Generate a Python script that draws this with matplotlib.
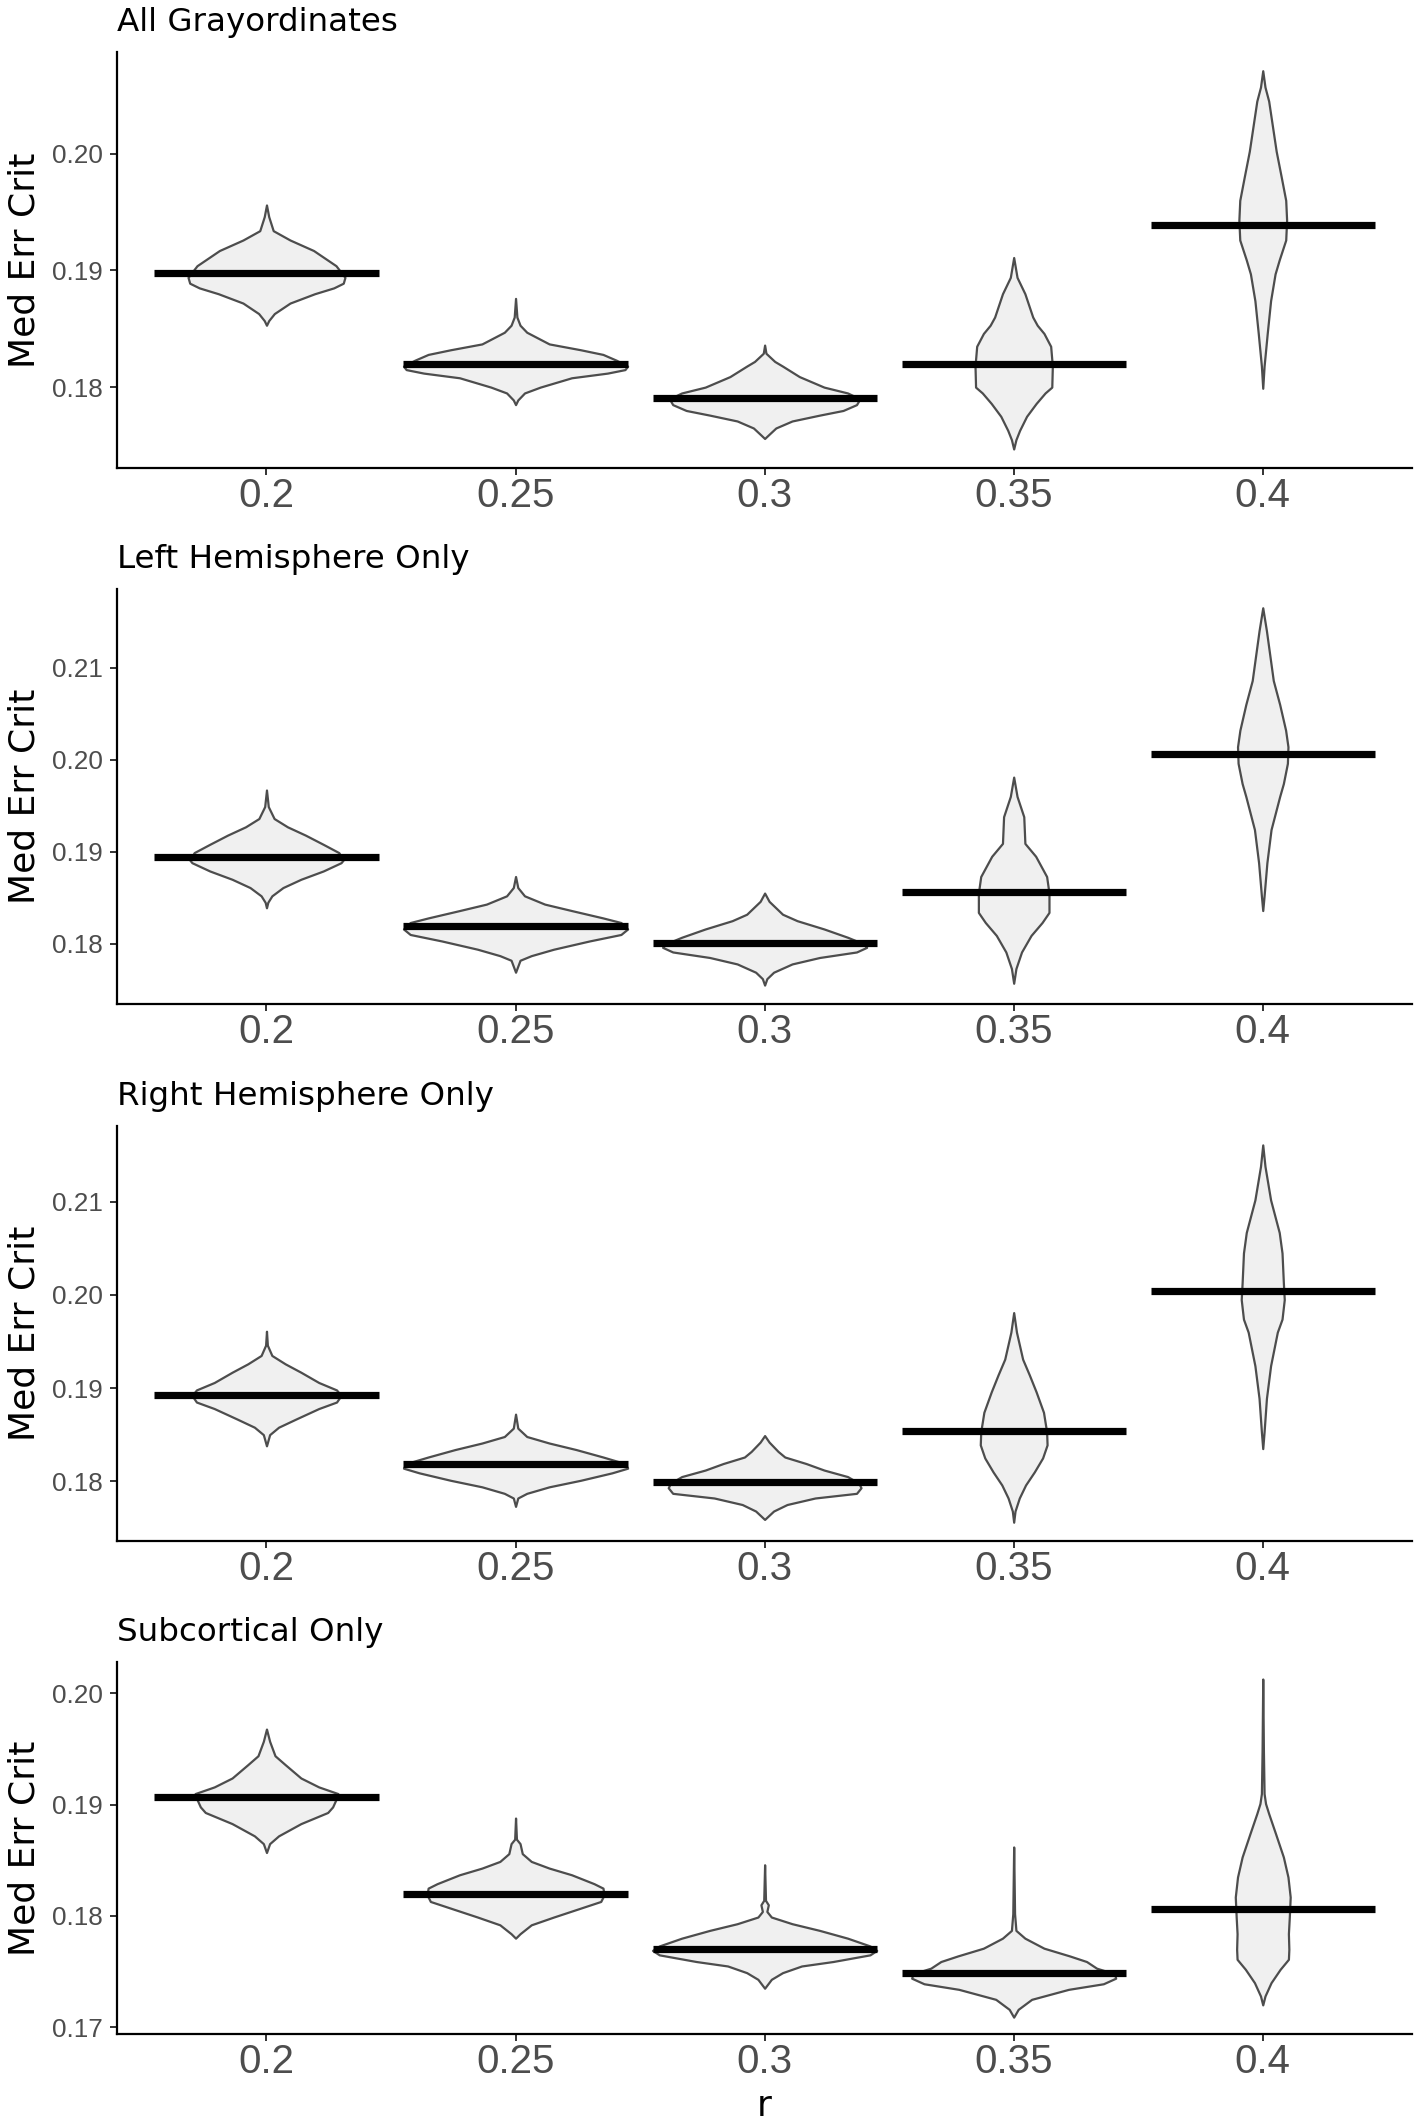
import numpy as np
import matplotlib
matplotlib.use("Agg")
import matplotlib.pyplot as plt
from matplotlib.font_manager import FontProperties
from matplotlib.ticker import MultipleLocator, FormatStrFormatter

# categories on the x axis
r_labels = ["0.2", "0.25", "0.3", "0.35", "0.4"]
panel_titles = ["All Grayordinates", "Left Hemisphere Only",
                "Right Hemisphere Only", "Subcortical Only"]

# --- All Grayordinates ---
all_med = [0.1898, 0.1820, 0.1791, 0.1820, 0.1939]
all_y = [
    [0.1956, 0.1946, 0.1934, 0.1926, 0.1917, 0.1904, 0.1894, 0.1889, 0.1885, 0.1880, 0.1872, 0.1863, 0.1857, 0.1853],
    [0.1876, 0.1860, 0.1853, 0.1847, 0.1843, 0.1837, 0.1832, 0.1828, 0.1823, 0.1818, 0.1815, 0.1812, 0.1808, 0.1800, 0.1795, 0.1789, 0.1785],
    [0.1836, 0.1829, 0.1822, 0.1818, 0.1809, 0.1800, 0.1795, 0.1790, 0.1785, 0.1780, 0.1776, 0.1771, 0.1765, 0.1759, 0.1756],
    [0.1911, 0.1894, 0.1880, 0.1860, 0.1853, 0.1846, 0.1835, 0.1818, 0.1800, 0.1795, 0.1786, 0.1775, 0.1763, 0.1755, 0.1747],
    [0.2071, 0.2057, 0.2045, 0.2002, 0.1980, 0.1960, 0.1943, 0.1926, 0.1909, 0.1897, 0.1874, 0.1846, 0.1818, 0.1799],
]
all_d = [
    [0, 0.02, 0.06, 0.21, 0.42, 0.62, 0.70, 0.685, 0.60, 0.43, 0.21, 0.07, 0.02, 0],
    [0, 0.012, 0.04, 0.10, 0.18, 0.30, 0.58, 0.78, 0.90, 1.0, 0.976, 0.82, 0.50, 0.22, 0.08, 0.02, 0],
    [0, 0.012, 0.09, 0.16, 0.31, 0.53, 0.74, 0.85, 0.82, 0.70, 0.49, 0.245, 0.10, 0.033, 0],
    [0, 0.03, 0.10, 0.17, 0.21, 0.27, 0.33, 0.345, 0.34, 0.28, 0.20, 0.115, 0.053, 0.02, 0],
    [0, 0.02, 0.053, 0.12, 0.165, 0.205, 0.213, 0.205, 0.147, 0.11, 0.07, 0.04, 0.012, 0],
]

# --- Left hemisphere ---
lh_med = [0.1894, 0.1819, 0.1801, 0.1856, 0.2006]
lh_y = [
    [0.1967, 0.1949, 0.1936, 0.1927, 0.1918, 0.1908, 0.1899, 0.1891, 0.1888, 0.1879, 0.1870, 0.1861, 0.1852, 0.1845, 0.1839],
    [0.1873, 0.1861, 0.1852, 0.1843, 0.1836, 0.1828, 0.1823, 0.1816, 0.1810, 0.1803, 0.1794, 0.1787, 0.1782, 0.1769],
    [0.1855, 0.1846, 0.1832, 0.1825, 0.1816, 0.1807, 0.1800, 0.1796, 0.1791, 0.1785, 0.1778, 0.1769, 0.1762, 0.1755],
    [0.1981, 0.1960, 0.1938, 0.1909, 0.1895, 0.1873, 0.1855, 0.1834, 0.1823, 0.1809, 0.1791, 0.1773, 0.1757],
    [0.2165, 0.2140, 0.2086, 0.2060, 0.2032, 0.2014, 0.1996, 0.1974, 0.1960, 0.1924, 0.1888, 0.1852, 0.1836],
]
lh_d = [
    [0, 0.016, 0.068, 0.187, 0.347, 0.506, 0.645, 0.685, 0.665, 0.506, 0.307, 0.147, 0.048, 0.012, 0],
    [0, 0.02, 0.08, 0.26, 0.50, 0.78, 0.94, 1.0, 0.94, 0.66, 0.34, 0.14, 0.04, 0],
    [0, 0.04, 0.16, 0.29, 0.53, 0.74, 0.88, 0.91, 0.82, 0.49, 0.245, 0.08, 0.02, 0],
    [0, 0.03, 0.09, 0.10, 0.196, 0.294, 0.315, 0.315, 0.253, 0.155, 0.07, 0.02, 0],
    [0, 0.033, 0.094, 0.151, 0.204, 0.225, 0.22, 0.184, 0.151, 0.074, 0.037, 0.012, 0],
]

# --- Right hemisphere ---
rh_med = [0.1893, 0.1819, 0.1799, 0.1854, 0.2004]
rh_y = [
    [0.1961, 0.1946, 0.1935, 0.1926, 0.1917, 0.1906, 0.1898, 0.1892, 0.1885, 0.1878, 0.1867, 0.1858, 0.1850, 0.1838],
    [0.1872, 0.1857, 0.1848, 0.1841, 0.1834, 0.1826, 0.1819, 0.1814, 0.1809, 0.1801, 0.1794, 0.1787, 0.1782, 0.1773],
    [0.1849, 0.1842, 0.1832, 0.1826, 0.1819, 0.1812, 0.1805, 0.1798, 0.1793, 0.1787, 0.1782, 0.1775, 0.1768, 0.1759],
    [0.1981, 0.1960, 0.1931, 0.1914, 0.1896, 0.1874, 0.1853, 0.1839, 0.1825, 0.1810, 0.1796, 0.1782, 0.1768, 0.1756],
    [0.2161, 0.2138, 0.2102, 0.2067, 0.2045, 0.2013, 0.1995, 0.1974, 0.1960, 0.1924, 0.1889, 0.1853, 0.1835],
]
rh_d = [
    [0, 0.008, 0.048, 0.167, 0.307, 0.466, 0.625, 0.665, 0.625, 0.466, 0.267, 0.108, 0.028, 0],
    [0, 0.02, 0.10, 0.30, 0.54, 0.78, 0.976, 1.0, 0.86, 0.58, 0.30, 0.10, 0.02, 0],
    [0, 0.04, 0.12, 0.18, 0.37, 0.53, 0.74, 0.84, 0.86, 0.82, 0.45, 0.20, 0.08, 0],
    [0, 0.025, 0.08, 0.14, 0.20, 0.266, 0.294, 0.298, 0.258, 0.184, 0.106, 0.05, 0.012, 0],
    [0, 0.02, 0.07, 0.147, 0.172, 0.184, 0.192, 0.172, 0.13, 0.07, 0.033, 0.012, 0],
]

# --- Subcortical ---
sc_med = [0.1907, 0.1820, 0.1770, 0.1749, 0.1806]
sc_y = [
    [0.1968, 0.1957, 0.1944, 0.1936, 0.1924, 0.1916, 0.1910, 0.1904, 0.1898, 0.1893, 0.1883, 0.1872, 0.1865, 0.1857],
    [0.1888, 0.1869, 0.1865, 0.1856, 0.1849, 0.1843, 0.1837, 0.1829, 0.1825, 0.1819, 0.1813, 0.1807, 0.1799, 0.1792, 0.1784, 0.1780],
    [0.1846, 0.1814, 0.1810, 0.1804, 0.1799, 0.1793, 0.1787, 0.1780, 0.1773, 0.1769, 0.1765, 0.1759, 0.1755, 0.1749, 0.1743, 0.1735],
    [0.1862, 0.1802, 0.1787, 0.1780, 0.1771, 0.1764, 0.1759, 0.1753, 0.1748, 0.1744, 0.1739, 0.1734, 0.1725, 0.1716, 0.1709],
    [0.2013, 0.1948, 0.1910, 0.1901, 0.1892, 0.1874, 0.1853, 0.1835, 0.1817, 0.1799, 0.1784, 0.1770, 0.1761, 0.1752, 0.1740, 0.1728, 0.1720],
]
sc_d = [
    [0, 0.028, 0.076, 0.167, 0.307, 0.466, 0.637, 0.617, 0.59, 0.546, 0.307, 0.108, 0.028, 0],
    [0, 0.008, 0.04, 0.06, 0.14, 0.30, 0.50, 0.70, 0.78, 0.79, 0.76, 0.58, 0.34, 0.14, 0.04, 0],
    [0, 0.008, 0.033, 0.02, 0.06, 0.245, 0.49, 0.74, 0.94, 1.0, 0.94, 0.61, 0.33, 0.16, 0.06, 0],
    [0, 0.008, 0.02, 0.10, 0.27, 0.50, 0.65, 0.74, 0.90, 0.91, 0.80, 0.49, 0.16, 0.04, 0],
    [0, 0.006, 0.012, 0.025, 0.053, 0.114, 0.184, 0.225, 0.245, 0.237, 0.229, 0.233, 0.229, 0.155, 0.074, 0.02, 0],
]

panels = [(all_y, all_d, all_med), (lh_y, lh_d, lh_med),
          (rh_y, rh_d, rh_med), (sc_y, sc_d, sc_med)]

tick_family = ["Liberation Sans", "DejaVu Sans"]

fig = plt.figure(figsize=(7.085, 10.615), dpi=200)
boxes = [[0.0826, 0.7796, 0.914, 0.1960],
         [0.0826, 0.5271, 0.914, 0.1955],
         [0.0826, 0.2741, 0.914, 0.1955],
         [0.0826, 0.0419, 0.914, 0.1752]]

pos = np.arange(1, len(r_labels) + 1)

for k, (ys, ds, meds) in enumerate(panels):
    ax = fig.add_axes(boxes[k])
    stats = [dict(coords=y, vals=d, mean=m, median=m, min=min(y), max=max(y))
             for y, d, m in zip(ys, ds, meds)]
    # area scaling: the violin with the highest density gets width 0.9
    dmax = max(max(d) for d in ds)
    widths = [0.9 * max(d) / dmax for d in ds]
    parts = ax.violin(stats, positions=pos, widths=widths,
                      showmeans=False, showextrema=False, showmedians=False)
    for b in parts["bodies"]:
        b.set_facecolor("#F0F0F0")
        b.set_edgecolor("#4D4D4D")
        b.set_linewidth(0.8)
        b.set_alpha(1)
    ax.hlines(meds, pos - 0.45, pos + 0.45, color="black", lw=2.6, zorder=3)

    ax.set_xlim(0.4, 5.6)
    ax.margins(y=0.05)
    ax.set_xticks(pos)
    ax.set_xticklabels(r_labels)
    ax.yaxis.set_major_locator(MultipleLocator(0.01))
    ax.yaxis.set_major_formatter(FormatStrFormatter("%.2f"))

    for s in ["top", "right"]:
        ax.spines[s].set_visible(False)
    for s in ["left", "bottom"]:
        ax.spines[s].set_linewidth(0.8)
        ax.spines[s].set_color("black")
    ax.tick_params(axis="both", direction="out", length=2.6, width=0.7,
                   color="#333333", labelcolor="#4D4D4D")
    ax.tick_params(axis="x", pad=0.5)
    ax.tick_params(axis="y", pad=2.6)
    for lab in ax.get_xticklabels():
        lab.set_fontproperties(FontProperties(family=tick_family, size=14.5))
    for lab in ax.get_yticklabels():
        lab.set_fontproperties(FontProperties(family=tick_family, size=9.4))

    ax.set_title(panel_titles[k], loc="left", pad=7.5,
                 fontfamily="DejaVu Sans", fontsize=11.7)
    ax.set_ylabel("Med Err Crit", fontsize=13)
    ax.yaxis.set_label_coords(-0.058, 0.5)
    if k == len(panels) - 1:
        ax.set_xlabel("r", fontsize=13, labelpad=3)

fig.savefig("out.png", dpi=200)
